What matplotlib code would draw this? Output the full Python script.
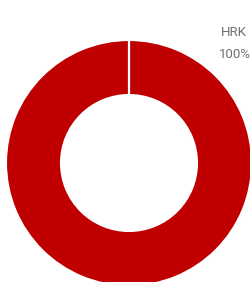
import matplotlib
matplotlib.use("Agg")
import matplotlib.pyplot as plt

# data
labels = ["HRK"]
values = [100]
colors = ["#c00000"]

fig = plt.figure(figsize=(2.5, 2.82), dpi=100)
ax = fig.add_axes([0, 0, 1, 1])

cx, cy, r, w = 129, 163, 123, 55
wedges, _ = ax.pie(values, colors=colors, startangle=90, counterclock=False,
                   center=(cx, cy), radius=r,
                   wedgeprops=dict(width=w, edgecolor="white", linewidth=1.5))

# a full-circle wedge has no radial edge, so draw the start seam
ax.plot([cx, cx], [cy - r - 1, cy - r + w + 1], color="white", lw=1.6,
        solid_capstyle="butt")

ax.set_xlim(0, 250)
ax.set_ylim(282, 0)
ax.set_aspect("auto")
ax.axis("off")

# label at top right
pct = values[0] / sum(values) * 100
ax.text(234, 33, labels[0], ha="center", va="center", fontsize=9.5,
        color="#707070", family="Roboto")
ax.text(235, 54, f"{pct:.0f}%", ha="center", va="center", fontsize=9.5,
        color="#707070", family="Roboto")

fig.savefig("out.png", dpi=100)
